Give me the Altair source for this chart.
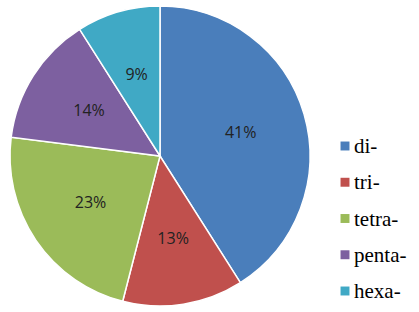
import altair as alt
import pandas as pd

categories = ["di-", "tri-", "tetra-", "penta-", "hexa-"]
shares = [41, 13, 23, 14, 9]
colors = ["#4A7EBB", "#C0504D", "#9BBB59", "#7D60A0", "#40A9C5"]

df = pd.DataFrame({
    "category": categories,
    "share": shares,
    "order": list(range(len(categories))),
})
df["label"] = df["share"].astype(str) + "%"

color_scale = alt.Scale(domain=categories, range=colors)

base = alt.Chart(df).encode(
    theta=alt.Theta("share:Q", stack=True),
    order=alt.Order("order:Q"),
    x=alt.value(160),
    y=alt.value(156),
)

arcs = base.mark_arc(radius=150, stroke="white", strokeWidth=1.5).encode(
    color=alt.Color("category:N", scale=color_scale, legend=None)
)

labels = base.mark_text(
    radius=84, font="Open Sans", fontSize=16, color="#222222"
).encode(text="label:N")

legend_y = alt.Y(
    "category:N",
    scale=alt.Scale(type="point", domain=categories, range=[146, 291], padding=0),
    axis=None,
)

legend_sym = alt.Chart(df).mark_square(size=80, opacity=1).encode(
    x=alt.value(345),
    y=legend_y,
    color=alt.Color("category:N", scale=color_scale, legend=None),
)

legend_txt = alt.Chart(df).mark_text(
    align="left", baseline="middle", font="Liberation Serif",
    fontSize=21, color="#000000", dy=1,
).encode(
    x=alt.value(354),
    y=legend_y,
    text="category:N",
)

chart = (
    (arcs + labels + legend_sym + legend_txt)
    .properties(width=419, height=312, autosize=alt.AutoSizeParams(type="none"),
                padding=0, background="white")
    .configure_view(stroke=None)
)

chart.save("out.html", embed_options={"renderer": "svg", "actions": False})
